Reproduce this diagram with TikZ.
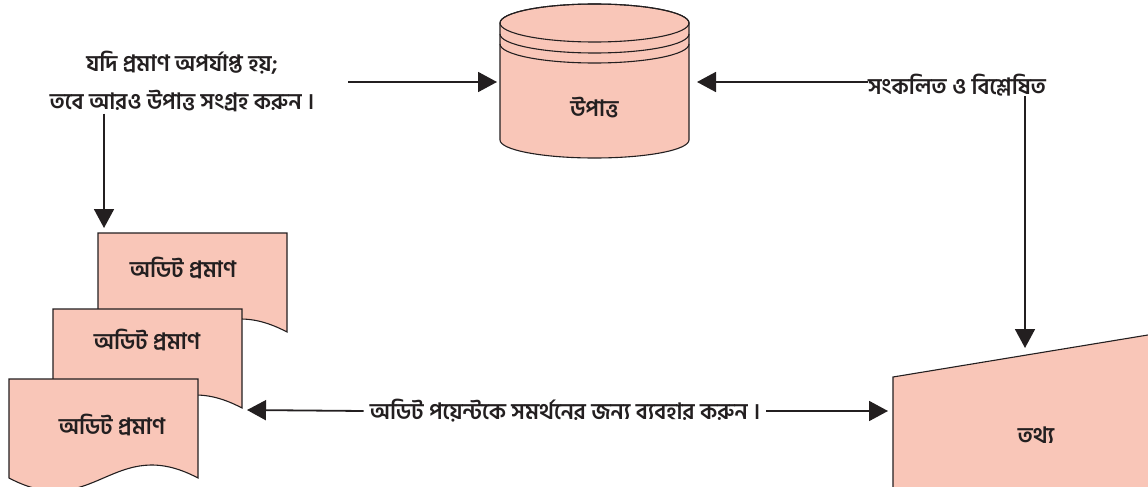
\documentclass[tikz,border=0pt]{standalone}
\usepackage{fontspec}
\newfontfamily\bn[Script=Bengali]{Hind Siliguri}
\usetikzlibrary{arrows.meta,positioning,calc}
\definecolor{salmon}{RGB}{249,198,184}
\definecolor{ink}{RGB}{35,31,32}

\begin{document}
\begin{tikzpicture}[
    x=1pt, y=-1pt,
    font=\bn\bfseries\fontsize{22.5}{38}\selectfont,
    paper/.style={draw=ink, line width=1.1pt, fill=salmon},
    txt/.style={inner sep=2pt, align=center, text=ink},
    arrow/.style={-{Triangle[length=19pt, width=20pt]}, line width=1.8pt, draw=ink}
]
\useasboundingbox (0,0) rectangle (1148,487);
\clip (0,0) rectangle (1148,487);

% data store
\path[paper] (500,23) -- (500,140) arc[start angle=180, end angle=0, x radius=94.5, y radius=18]
    -- (689,23) arc[start angle=0, end angle=-180, x radius=94.5, y radius=19] -- cycle;
\draw[ink, line width=1.1pt] (594.5,23) ellipse [x radius=94.5, y radius=19];
\foreach \ly in {34,44}
    \draw[ink, line width=1.1pt] (500,\ly) arc[start angle=180, end angle=0, x radius=94.5, y radius=19];
\node[txt] (store) at (594.5,108) {উপাত্ত};
\coordinate (storeW) at (497,82);
\coordinate (storeE) at (697,82);

% stacked documents
\foreach \x/\y/\tx/\ty/\n in {98/233/183/268/1, 53/309/147/340/2, 9/379/112/425/3} {
    \path[paper] (\x,\y) -- (\x+189,\y) -- (\x+189,\y+99)
        .. controls (\x+104,\y+54) and (\x+85,\y+144) .. (\x,\y+99) -- cycle;
    \node[txt] (doc\n) at (\tx,\ty) {অডিট প্রমাণ};
}
\coordinate (docTop) at (104,228);
\coordinate (docR) at (247,410);

% manual input
\path[paper] (893,377) -- (1160,333) -- (1160,500) -- (893,500) -- cycle;
\node[txt] (data) at (1036,435) {তথ্য};
\coordinate (dataTop) at (1025,348);
\coordinate (dataW) at (888,411);

% labels
\node[txt] (ask) at (182,81) {যদি প্রমাণ অপর্যাপ্ত হয়;\\তবে আরও উপাত্ত সংগ্রহ করুন ।};
\node[txt, inner sep=0pt] (merge) at (957,85) {সংকলিত ও বিশ্লেষিত};
\node[txt, inner sep=6pt] (use) at (565,411) {অডিট পয়েন্টকে সমর্থনের জন্য ব্যবহার করুন ।};

% connectors
\draw[arrow] ($(ask.east |- storeW)+(32,0)$) -- (storeW);
\draw[arrow] (ask.south -| docTop) -- (docTop);
\draw[arrow] (merge.west |- storeE) -- (storeE);
\draw[arrow] (merge.south -| dataTop) -- (dataTop);
\draw[arrow] (use.west) -- (docR);
\draw[arrow] (use.east) -- (dataW);
\end{tikzpicture}
\end{document}
